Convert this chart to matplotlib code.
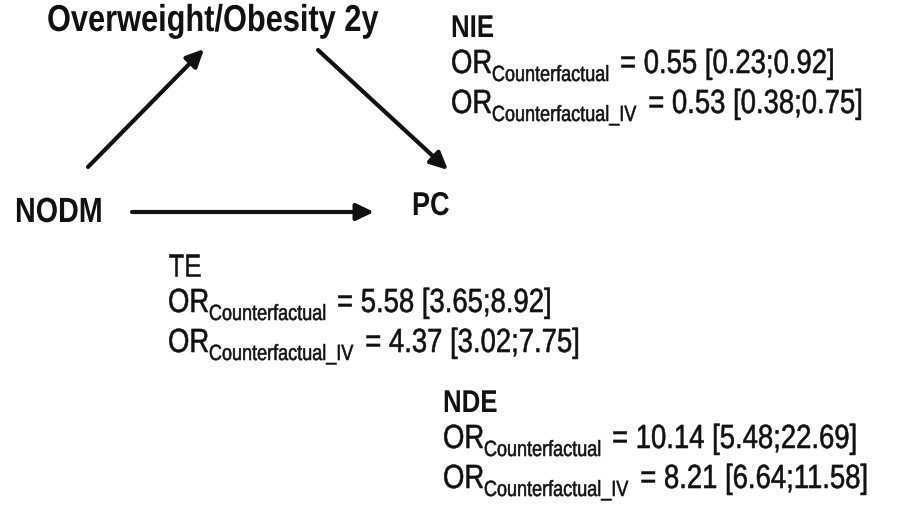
import matplotlib.pyplot as plt
from matplotlib.textpath import TextPath
from matplotlib.patches import PathPatch
from matplotlib.font_manager import FontProperties
from matplotlib.transforms import Affine2D

# nodes and edges of the mediation diagram
node_names = ['NODM', 'Overweight/Obesity 2y', 'PC']
edges = [(0, 1), (1, 2), (0, 2)]

# odds ratios with 95% CI
effects = ['NIE', 'TE', 'NDE']
or_cf = [0.55, 5.58, 10.14]
or_cf_lo = [0.23, 3.65, 5.48]
or_cf_hi = [0.92, 8.92, 22.69]
or_iv = [0.53, 4.37, 8.21]
or_iv_lo = [0.38, 3.02, 6.64]
or_iv_hi = [0.75, 7.75, 11.58]
subscripts = ['Counterfactual', 'Counterfactual_IV']

W, H = 901, 505
ink = '#111111'
squeeze = 0.82  # Arial Narrow look: Liberation Sans squeezed horizontally

fig = plt.figure(figsize=(W / 100, H / 100), dpi=100)
ax = fig.add_axes([0, 0, 1, 1])
ax.set_xlim(0, W)
ax.set_ylim(H, 0)
ax.axis('off')

# layout (pixels): left x, baseline y, em size
node_pos = {0: (15, 222), 1: (47, 31), 2: (412, 215)}
node_em = {0: 35, 1: 37.5, 2: 33}
arrow_pts = {(0, 1): ((88, 167), (204, 49)),
             (1, 2): ((318, 50), (448, 170)),
             (0, 2): ((132, 212), (374, 212))}
effect_pos = [(451, 37), (168, 276), (443, 412)]
effect_bold = [True, False, True]
line_dy = [36, 40]


def put(x, y, s, em, weight='normal'):
    # draws text as a path so it can be narrowed; returns right edge
    prop = FontProperties(family='Liberation Sans', weight=weight)
    tp = TextPath((0, 0), s, size=em, prop=prop)
    tr = Affine2D().scale(squeeze, -1).translate(x, y) + ax.transData
    stroke = 0.4 if weight == 'normal' else 0
    ax.add_patch(PathPatch(tp, transform=tr, fc=ink, ec=ink, lw=stroke))
    return x + tp.get_extents().x1 * squeeze


for i, name in enumerate(node_names):
    x, y = node_pos[i]
    put(x, y, name, node_em[i], 'bold')

for a, b in edges:
    (x0, y0), (x1, y1) = arrow_pts[(a, b)]
    ax.annotate('', xy=(x1, y1), xytext=(x0, y0),
                arrowprops=dict(arrowstyle='-|>,head_length=0.75,head_width=0.36',
                                lw=3, color=ink, shrinkA=0, shrinkB=0,
                                mutation_scale=14))

for k, eff in enumerate(effects):
    x, y = effect_pos[k]
    put(x, y, eff, 31.5, 'bold' if effect_bold[k] else 'normal')
    rows = [(or_cf[k], or_cf_lo[k], or_cf_hi[k]),
            (or_iv[k], or_iv_lo[k], or_iv_hi[k])]
    yy = y
    for j, (est, lo, hi) in enumerate(rows):
        yy += line_dy[j]
        xe = put(x, yy, 'OR', 33.5)
        xe = put(xe + 1, yy + 8, subscripts[j], 22)
        put(xe + 12, yy, f'= {est:.2f} [{lo:.2f};{hi:.2f}]', 33.5)

fig.savefig('out.png', dpi=100, facecolor='white')
